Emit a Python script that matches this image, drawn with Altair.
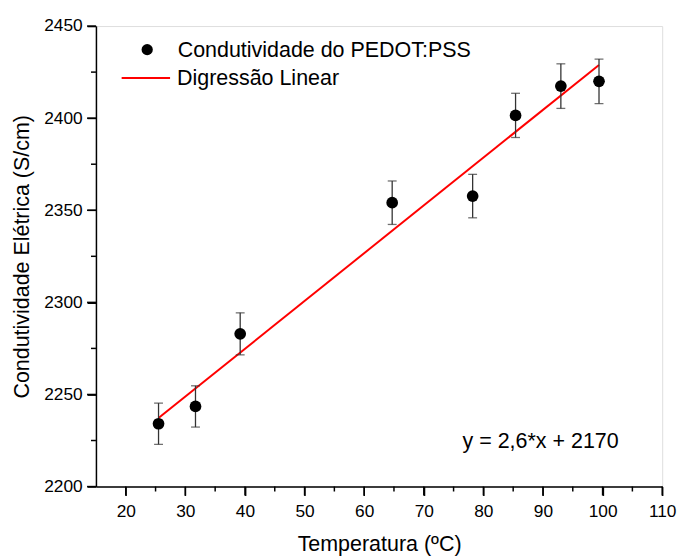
import altair as alt
import pandas as pd

# Data
temperature = [25.5, 31.7, 39.2, 64.7, 78.2, 85.4, 93.0, 99.4]
conductivity = [2234.1, 2243.5, 2282.9, 2354.1, 2357.7, 2401.5, 2417.4, 2420.0]
error = [11.2, 11.2, 11.4, 11.8, 11.8, 12.0, 12.1, 12.1]

fit_x = [25.5, 99.4]
fit_y = [2237.2, 2428.9]

series_points = "Condutividade do PEDOT:PSS"
series_line = "Digressão Linear"

eq_text = ["y = 2,6*x + 2170"]
eq_x = [76.5]
eq_y = [2224.8]

x_major = [20, 30, 40, 50, 60, 70, 80, 90, 100, 110]
x_minor = [25, 35, 45, 55, 65, 75, 85, 95, 105]
y_major = [2200, 2250, 2300, 2350, 2400, 2450]
y_minor = [2225, 2275, 2325, 2375, 2425]

FONT = "Liberation Sans"
BIG = 21.7
W, H = 573, 466
MAJOR, MINOR = 9, 5

pts = pd.DataFrame({
    "t": temperature,
    "c": conductivity,
    "lo": [c - e for c, e in zip(conductivity, error)],
    "hi": [c + e for c, e in zip(conductivity, error)],
    "series": [series_points] * len(temperature),
})
fit = pd.DataFrame({"t": fit_x, "c": fit_y, "series": [series_line] * len(fit_x)})
eq = pd.DataFrame({"t": eq_x, "c": eq_y, "txt": eq_text})
xt = pd.DataFrame({"v": x_major + x_minor,
                   "len": [MAJOR] * len(x_major) + [MINOR] * len(x_minor)})
yt = pd.DataFrame({"v": y_major + y_minor,
                   "len": [MAJOR] * len(y_major) + [MINOR] * len(y_minor)})
xt["end"] = H + xt["len"]
yt["end"] = -yt["len"]

xscale = alt.Scale(domain=[15, 110], nice=False, zero=False)
yscale = alt.Scale(domain=[2200, 2450], nice=False, zero=False)

xaxis = alt.Axis(
    title="Temperatura (ºC)", orient="bottom",
    values=x_major, ticks=True, tickSize=MAJOR, grid=False,
    labelFont=FONT, labelFontSize=17.5, labelColor="black", labelPadding=7,
    titleFont=FONT, titleFontSize=BIG, titleFontWeight="normal", titleColor="black",
    titlePadding=14,
    domainColor="black", domainWidth=1.5, tickColor="#000000", tickWidth=1.5,
    labelFlush=False, labelOverlap=False,
)
yaxis = alt.Axis(
    title="Condutividade Elétrica (S/cm)", orient="left",
    values=y_major, ticks=True, tickSize=MAJOR, grid=False, format="d",
    labelFont=FONT, labelFontSize=17.5, labelColor="black", labelPadding=5,
    titleFont=FONT, titleFontSize=BIG, titleFontWeight="normal", titleColor="black",
    titlePadding=10,
    domainColor="black", domainWidth=1.5, tickColor="#000000", tickWidth=1.5,
    labelFlush=False, labelOverlap=False,
)

# tick marks drawn through the scales
xticks = alt.Chart(xt).mark_rule(color="black", strokeWidth=1.5).encode(
    x=alt.X("v:Q", scale=xscale, axis=None),
    y=alt.value(H),
    y2=alt.Y2("end:Q"),
)
xticks = alt.Chart(xt).mark_rule(color="black", strokeWidth=1.5).encode(
    x=alt.X("v:Q", scale=xscale, axis=None),
    y=alt.value(H),
    y2=alt.value(H + MAJOR),
).transform_filter("datum.len == %d" % MAJOR) + alt.Chart(xt).mark_rule(color="black", strokeWidth=1.5).encode(
    x=alt.X("v:Q", scale=xscale, axis=None),
    y=alt.value(H),
    y2=alt.value(H + MINOR),
).transform_filter("datum.len == %d" % MINOR)

yticks = alt.Chart(yt).mark_rule(color="black", strokeWidth=1.5).encode(
    y=alt.Y("v:Q", scale=yscale, axis=None),
    x=alt.value(0),
    x2=alt.value(-MAJOR),
).transform_filter("datum.len == %d" % MAJOR) + alt.Chart(yt).mark_rule(color="black", strokeWidth=1.5).encode(
    y=alt.Y("v:Q", scale=yscale, axis=None),
    x=alt.value(0),
    x2=alt.value(-MINOR),
).transform_filter("datum.len == %d" % MINOR)

errbars = alt.Chart(pts).mark_errorbar(ticks=True, size=9, thickness=1.3, color="#333333").encode(
    x=alt.X("t:Q", scale=xscale, axis=None),
    y=alt.Y("lo:Q", scale=yscale, axis=None),
    y2="hi:Q",
)

points = alt.Chart(pts).mark_point(filled=True, size=140, opacity=1).encode(
    x=alt.X("t:Q", scale=xscale, axis=xaxis),
    y=alt.Y("c:Q", scale=yscale, axis=yaxis),
    color=alt.Color("series:N", scale=alt.Scale(domain=[series_points], range=["black"]),
                    legend=alt.Legend(title=None, orient="none", legendX=41, legendY=13,
                                      symbolSize=130, symbolType="circle", labelOffset=20,
                                      labelFont=FONT, labelFontSize=BIG, labelColor="black",
                                      labelLimit=0, padding=0, symbolStrokeWidth=0)),
)

line = alt.Chart(fit).mark_line(strokeWidth=2).encode(
    x=alt.X("t:Q", scale=xscale, axis=None),
    y=alt.Y("c:Q", scale=yscale, axis=None),
    color=alt.Color("series:N", scale=alt.Scale(domain=[series_line], range=["#ff0000"]),
                    legend=alt.Legend(title=None, orient="none", legendX=25, legendY=27,
                                      symbolSize=2401, symbolType="stroke", labelOffset=6,
                                      symbolStrokeWidth=2,
                                      labelFont=FONT, labelFontSize=BIG, labelColor="black",
                                      labelLimit=0, padding=0)),
)

text = alt.Chart(eq).mark_text(align="left", baseline="middle", font=FONT, fontSize=BIG, color="black").encode(
    x=alt.X("t:Q", scale=xscale, axis=None),
    y=alt.Y("c:Q", scale=yscale, axis=None),
    text="txt:N",
)

chart = alt.layer(xticks, yticks, line, errbars, points, text).resolve_scale(
    color="independent"
).resolve_axis(x="independent", y="independent").properties(
    width=W,
    height=H,
    autosize=alt.AutoSizeParams(type="none"),
    padding={"left": 89, "top": 15, "right": 16, "bottom": 68},
).configure_view(stroke="black", strokeWidth=1.5).configure(background="white")

chart.save("out.html", embed_options={"renderer": "svg", "actions": False})
